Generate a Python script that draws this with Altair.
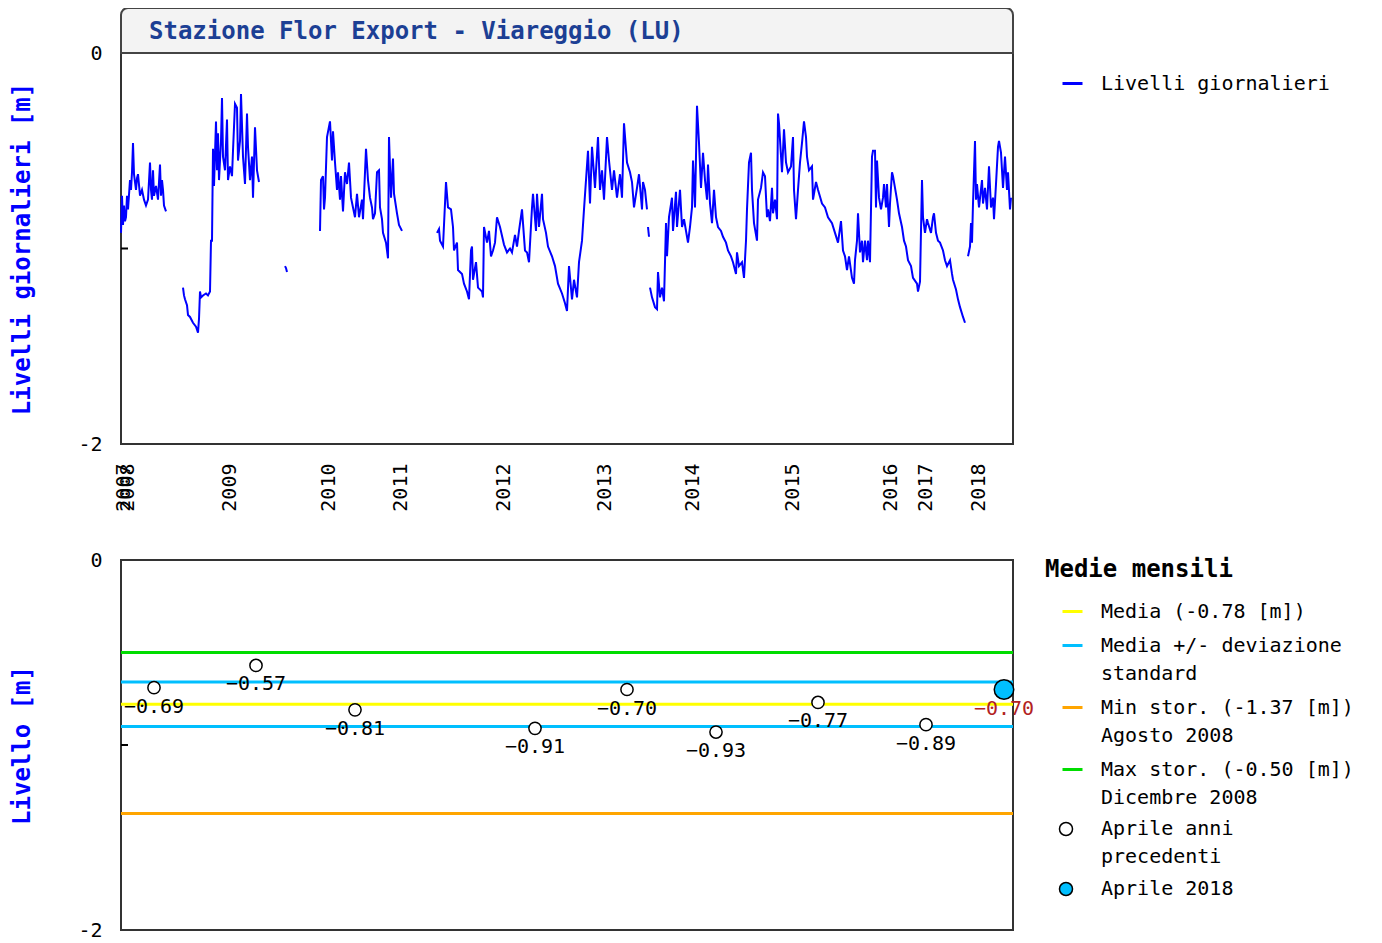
import json
import altair as alt
import pandas as pd

FONT = "DejaVu Sans Mono"

title_text = "Stazione Flor Export - Viareggio (LU)"
series_name = "Livelli giornalieri"

# x axis of the daily panel: index of the daily observation, labelled with the year
year_labels = ["2007", "2008", "2009", "2010", "2011", "2012", "2013", "2014", "2015", "2016", "2017", "2018"]
year_pos = [2, 6, 108, 207, 279, 382, 483, 571, 671, 769, 804, 857]

# daily levels [m], per continuous stretch of data: (day index, level)
seg_a = [(0, -0.92), (1, -0.73), (2, -0.88), (3, -0.78), (4, -0.86), (5, -0.84), (6, -0.73), (7, -0.80),
         (9, -0.65), (10, -0.70), (11, -0.61), (12, -0.46), (13, -0.62), (14, -0.66), (15, -0.70), (16, -0.64),
         (17, -0.62), (19, -0.73), (21, -0.70), (23, -0.75), (25, -0.78), (27, -0.75), (29, -0.56), (30, -0.70),
         (31, -0.75), (32, -0.60), (33, -0.73), (35, -0.68), (37, -0.75), (39, -0.57), (40, -0.73), (41, -0.65),
         (42, -0.70), (43, -0.78), (45, -0.81)]
seg_b = [(62, -1.20), (63, -1.24), (64, -1.26), (66, -1.29), (67, -1.34), (69, -1.35), (72, -1.38), (75, -1.40),
         (77, -1.43), (78, -1.36), (79, -1.22), (80, -1.25), (82, -1.24), (85, -1.23), (87, -1.24), (89, -1.22),
         (90, -0.96), (91, -0.96), (92, -0.49), (93, -0.68), (95, -0.35), (96, -0.60), (97, -0.41), (98, -0.65),
         (100, -0.45), (101, -0.23), (102, -0.53), (104, -0.60), (106, -0.34), (107, -0.65), (109, -0.58),
         (111, -0.63), (112, -0.50), (114, -0.26), (116, -0.28), (117, -0.55), (119, -0.45), (120, -0.21),
         (122, -0.53), (124, -0.67), (126, -0.31), (127, -0.48), (129, -0.65), (131, -0.53), (132, -0.74),
         (134, -0.38), (136, -0.60), (138, -0.66)]
seg_c = [(164, -1.09), (165, -1.10), (166, -1.12)]
seg_d = [(199, -0.91), (200, -0.65), (202, -0.63), (203, -0.80), (204, -0.74), (206, -0.43), (209, -0.35),
         (211, -0.55), (212, -0.40), (214, -0.56), (216, -0.70), (217, -0.61), (219, -0.75), (220, -0.63),
         (222, -0.81), (224, -0.61), (226, -0.67), (228, -0.56), (230, -0.74), (232, -0.79), (234, -0.84),
         (236, -0.72), (238, -0.84), (241, -0.75), (242, -0.85), (245, -0.49), (247, -0.65), (249, -0.74),
         (251, -0.79), (252, -0.85), (254, -0.82), (256, -0.61), (258, -0.60), (259, -0.79), (261, -0.85),
         (262, -0.92), (265, -0.97), (267, -1.05), (268, -0.43), (270, -0.74), (272, -0.54), (273, -0.72),
         (276, -0.82), (278, -0.88), (281, -0.91)]
seg_e = [(316, -0.92), (318, -0.90), (319, -0.96), (322, -0.99), (325, -0.66), (327, -0.79), (330, -0.80),
         (332, -0.89), (333, -1.01), (336, -0.97), (337, -1.11), (341, -1.13), (343, -1.18), (346, -1.22),
         (348, -1.26), (350, -1.01), (351, -0.99), (352, -1.16), (355, -1.07), (357, -1.20), (361, -1.22),
         (362, -1.25), (363, -0.89), (366, -0.97), (368, -0.91), (370, -1.04), (372, -1.01), (374, -0.97),
         (376, -0.84), (379, -0.89), (383, -0.98), (386, -1.02), (389, -1.00), (391, -1.02), (394, -0.93),
         (396, -0.99), (398, -0.91), (401, -0.80), (404, -1.01), (406, -1.02), (408, -1.07), (411, -0.79),
         (412, -0.72), (415, -0.91), (416, -0.72), (418, -0.89), (421, -0.72), (422, -0.85), (425, -0.92),
         (427, -0.99), (431, -1.04), (434, -1.09), (437, -1.18), (441, -1.23), (444, -1.28), (446, -1.32),
         (448, -1.09), (451, -1.26), (453, -1.16), (456, -1.25), (458, -1.07), (461, -0.96), (463, -0.80),
         (465, -0.65), (467, -0.50), (469, -0.77), (471, -0.48), (474, -0.69), (477, -0.43), (479, -0.70),
         (481, -0.60), (483, -0.75), (486, -0.43), (488, -0.55), (491, -0.70), (493, -0.60), (496, -0.74),
         (499, -0.62), (501, -0.74), (503, -0.36), (506, -0.56), (509, -0.61), (511, -0.66), (513, -0.79),
         (516, -0.69), (518, -0.62), (521, -0.80), (522, -0.66), (524, -0.70), (526, -0.80)]
seg_f = [(527, -0.89), (528, -0.94)]
seg_g = [(529, -1.20), (531, -1.25), (534, -1.30), (536, -1.31), (537, -1.12), (539, -1.25), (541, -1.20),
         (543, -1.27), (545, -0.87), (546, -1.04), (548, -0.84), (551, -0.74), (552, -0.91), (555, -0.71),
         (556, -0.89), (559, -0.70), (561, -0.89), (563, -0.85), (566, -0.94), (567, -0.97), (569, -0.89),
         (571, -0.79), (572, -0.55), (574, -0.79), (576, -0.27), (578, -0.46), (580, -0.69), (582, -0.51),
         (584, -0.65), (586, -0.75), (587, -0.57), (589, -0.77), (591, -0.87), (593, -0.70), (595, -0.84),
         (597, -0.89), (600, -0.91), (602, -0.94), (605, -0.97), (607, -1.01), (610, -1.04), (612, -1.07),
         (615, -1.13), (616, -1.02), (618, -1.09), (621, -1.07), (623, -1.15), (625, -0.96), (626, -0.80),
         (628, -0.56), (630, -0.51), (631, -0.70), (633, -0.87), (636, -0.96), (637, -0.75), (640, -0.69),
         (642, -0.61), (644, -0.63), (646, -0.84), (647, -0.80), (649, -0.86), (651, -0.69), (652, -0.82),
         (654, -0.75), (656, -0.85), (657, -0.31), (658, -0.36), (661, -0.61), (663, -0.39), (665, -0.56),
         (667, -0.61), (670, -0.58), (672, -0.43), (673, -0.70), (675, -0.85), (677, -0.70), (679, -0.56),
         (681, -0.46), (683, -0.35), (685, -0.43), (686, -0.53), (688, -0.60), (691, -0.58), (692, -0.75),
         (695, -0.66), (697, -0.70), (701, -0.77), (704, -0.79), (707, -0.84), (711, -0.87), (714, -0.92),
         (717, -0.97), (720, -0.86), (722, -1.01), (724, -1.04), (726, -1.11), (728, -1.04), (731, -1.15),
         (733, -1.18), (734, -1.06), (736, -0.96), (737, -0.82), (739, -1.02), (741, -0.96), (742, -1.07),
         (744, -0.96), (746, -1.06), (747, -0.96), (749, -1.07), (751, -0.53), (752, -0.50), (754, -0.50),
         (755, -0.79), (756, -0.55), (758, -0.74), (760, -0.80), (762, -0.74), (763, -0.67), (765, -0.79),
         (766, -0.67), (768, -0.89), (769, -0.77), (771, -0.61), (772, -0.63), (774, -0.69), (776, -0.75),
         (778, -0.82), (781, -0.89), (783, -0.96), (785, -0.99), (787, -1.06), (790, -1.09), (792, -1.15),
         (796, -1.18), (797, -1.22), (799, -1.17), (801, -0.65), (802, -0.84), (804, -0.92), (806, -0.85),
         (807, -0.87), (810, -0.92), (812, -0.84), (813, -0.82), (815, -0.92), (817, -0.96), (819, -0.97),
         (822, -1.01), (824, -1.06), (826, -1.09), (829, -1.06), (831, -1.13), (832, -1.16), (835, -1.21),
         (837, -1.26), (839, -1.30), (842, -1.35), (844, -1.38)]
seg_h = [(847, -1.04), (849, -0.99), (850, -0.87), (851, -0.97), (852, -0.77), (854, -0.45), (855, -0.75),
         (856, -0.67), (858, -0.79), (861, -0.65), (862, -0.77), (864, -0.69), (866, -0.80), (868, -0.58),
         (870, -0.79), (872, -0.74), (873, -0.85), (875, -0.67), (877, -0.48), (878, -0.45), (880, -0.51),
         (882, -0.69), (884, -0.53), (886, -0.70), (887, -0.61), (889, -0.80), (890, -0.74)]

# monthly means (April)
april_idx = [33, 135, 234, 414, 506, 595, 697, 805]
april_val = [-0.69, -0.57, -0.81, -0.91, -0.70, -0.93, -0.77, -0.89]
current_idx = [883]
current_val = [-0.70]
point_names = ["Aprile anni\nprecedenti", "Aprile 2018"]

stat_names = ["Media (-0.78 [m])", "Media +/- deviazione\nstandard",
              "Min stor. (-1.37 [m])\nAgosto 2008", "Max stor. (-0.50 [m])\nDicembre 2008"]
stat_colors = ["#ffff00", "#00bfff", "#ffa500", "#00dd00"]
stat_values = [-0.78, -0.66, -0.90, -1.37, -0.50]
stat_of_value = [0, 1, 1, 2, 3]

# ---------------------------------------------------------------- tables
rows = []
for k, seg in enumerate([seg_a, seg_b, seg_c, seg_d, seg_e, seg_f, seg_g, seg_h]):
    for i, v in seg:
        rows.append({"seg": k, "idx": i, "lvl": v, "serie": series_name})
daily = pd.DataFrame(rows)

prev_df = pd.DataFrame({"idx": april_idx, "val": april_val, "cat": point_names[0]})
cur_df = pd.DataFrame({"idx": current_idx, "val": current_val, "cat": point_names[1]})
stat_df = pd.DataFrame({"val": stat_values, "cat": [stat_names[j] for j in stat_of_value]})
tick_df = pd.DataFrame({"v": [-1]})
title_df = pd.DataFrame({"t": [title_text]})

W = 892
x_scale = alt.Scale(domain=[0, W], nice=False, zero=False)
y_scale = alt.Scale(domain=[-2, 0], nice=False, zero=False)

y_lab = "datum.value == 0 ? '0' : (datum.value == -2 ? '-2' : '')"


def y_axis(title):
    return alt.Axis(title=title, values=[0, -1, -2], labelExpr=y_lab, ticks=False, tickSize=0,
                    domain=False, grid=False, labelFont=FONT, labelFontSize=20, labelPadding=19,
                    labelColor="black", titleFont=FONT, titleFontSize=24, titleFontWeight="bold",
                    titleColor="#0000ff", titlePadding=43)


x_axis_top = alt.Axis(values=year_pos,
                      labelExpr=f"{json.dumps(year_labels)}[indexof({json.dumps(year_pos)}, datum.value)]",
                      labelAngle=-90, labelFont=FONT, labelFontSize=20, labelPadding=19, labelColor="black",
                      ticks=False, tickSize=0, domain=False, grid=False, labelOverlap=False,
                      labelFlush=False, title=None)

# ---------------------------------------------------------------- daily panel (with its title box)
y_top = y_axis("Livelli giornalieri [m]")
box = alt.Chart(title_df).mark_rect(fill="#f3f3f3", stroke="#444444", strokeWidth=2,
                                     cornerRadiusTopLeft=7, cornerRadiusTopRight=7).encode(
    x=alt.value(0), x2=alt.value(W), y=alt.value(-45), y2=alt.value(0))
ttxt = alt.Chart(title_df).mark_text(align="left", baseline="middle", font=FONT, fontSize=24,
                                     fontWeight="bold", color="#1c3f94").encode(
    x=alt.value(28), y=alt.value(-21), text="t:N")

top_legend = alt.Legend(orient="none", legendX=940, legendY=19, title=None, symbolType="stroke",
                        symbolSize=400, symbolStrokeWidth=3, labelFont=FONT, labelFontSize=20,
                        labelOffset=17, labelColor="black", labelLimit=400)
line = alt.Chart(daily).mark_line(strokeWidth=2).encode(
    x=alt.X("idx:Q", scale=x_scale, axis=x_axis_top),
    y=alt.Y("lvl:Q", scale=y_scale, axis=y_top),
    color=alt.Color("serie:N", scale=alt.Scale(domain=[series_name], range=["#0000ff"]), legend=top_legend),
    detail="seg:N",
)
tick_top = alt.Chart(tick_df).mark_rule(color="black", strokeWidth=2).encode(
    y=alt.Y("v:Q", scale=y_scale, axis=y_top), x=alt.value(0), x2=alt.value(7))
top = alt.layer(box, ttxt, line, tick_top).properties(width=W, height=391)

# ---------------------------------------------------------------- monthly panel
split_expr = "split(datum.label, '\\n')"
stat_legend = alt.Legend(orient="none", legendX=924, legendY=-2, title="Medie mensili", titleFont=FONT,
                         titleFontSize=24, titleFontWeight="bold", titleColor="black", titlePadding=18,
                         titleLimit=400, symbolType="stroke", symbolSize=400, symbolStrokeWidth=3,
                         symbolOffset=16, labelOffset=17, labelFont=FONT, labelFontSize=20,
                         labelColor="black", labelLimit=400, rowPadding=12, labelExpr=split_expr)
pt_legend = alt.Legend(orient="none", legendX=924, legendY=259, title=None, symbolType="circle",
                       symbolSize=170, symbolStrokeColor="black", symbolStrokeWidth=1.5, symbolOffset=11,
                       labelOffset=25, labelFont=FONT, labelFontSize=20, labelColor="black",
                       labelLimit=400, rowPadding=12, labelExpr=split_expr)
fill_scale = alt.Scale(domain=point_names, range=["#ffffff", "#00bfff"])
y_bot = y_axis("Livello [m]")

rules = alt.Chart(stat_df).mark_rule(strokeWidth=3).encode(
    y=alt.Y("val:Q", scale=y_scale, axis=y_bot),
    color=alt.Color("cat:N", scale=alt.Scale(domain=stat_names, range=stat_colors), legend=stat_legend))
tick_bot = alt.Chart(tick_df).mark_rule(color="black", strokeWidth=2).encode(
    y=alt.Y("v:Q", scale=y_scale, axis=y_bot), x=alt.value(0), x2=alt.value(7))
prev_txt = alt.Chart(prev_df).mark_text(dy=19, font=FONT, fontSize=20, color="black").encode(
    x=alt.X("idx:Q", scale=x_scale, axis=None), y=alt.Y("val:Q", scale=y_scale, axis=y_bot),
    text=alt.Text("val:Q", format=".2f"))
cur_txt = alt.Chart(cur_df).mark_text(dy=19, font=FONT, fontSize=20, color="#b22222").encode(
    x=alt.X("idx:Q", scale=x_scale, axis=None), y=alt.Y("val:Q", scale=y_scale, axis=y_bot),
    text=alt.Text("val:Q", format=".2f"))
prev_pts = alt.Chart(prev_df).mark_point(filled=True, stroke="black", strokeWidth=1.5, size=150,
                                         opacity=1).encode(
    x=alt.X("idx:Q", scale=x_scale, axis=None), y=alt.Y("val:Q", scale=y_scale, axis=y_bot),
    fill=alt.Fill("cat:N", scale=fill_scale, legend=pt_legend))
cur_pts = alt.Chart(cur_df).mark_point(filled=True, stroke="black", strokeWidth=1.5, size=380,
                                       opacity=1).encode(
    x=alt.X("idx:Q", scale=x_scale, axis=None), y=alt.Y("val:Q", scale=y_scale, axis=y_bot),
    fill=alt.Fill("cat:N", scale=fill_scale, legend=pt_legend))
bottom = alt.layer(rules, tick_bot, prev_txt, cur_txt, prev_pts, cur_pts).properties(width=W, height=370)

chart = alt.vconcat(top, bottom, spacing=36).resolve_scale(
    color="independent", fill="independent", x="independent", y="independent"
).properties(
    padding={"left": 1, "top": -2, "right": 5, "bottom": 5}
).configure(
    view=alt.ViewConfig(stroke="#333333", strokeWidth=2),
    style={"guide-label": {"lineHeight": 28}},
)

chart.save("out.html", embed_options={"renderer": "svg", "actions": False})
